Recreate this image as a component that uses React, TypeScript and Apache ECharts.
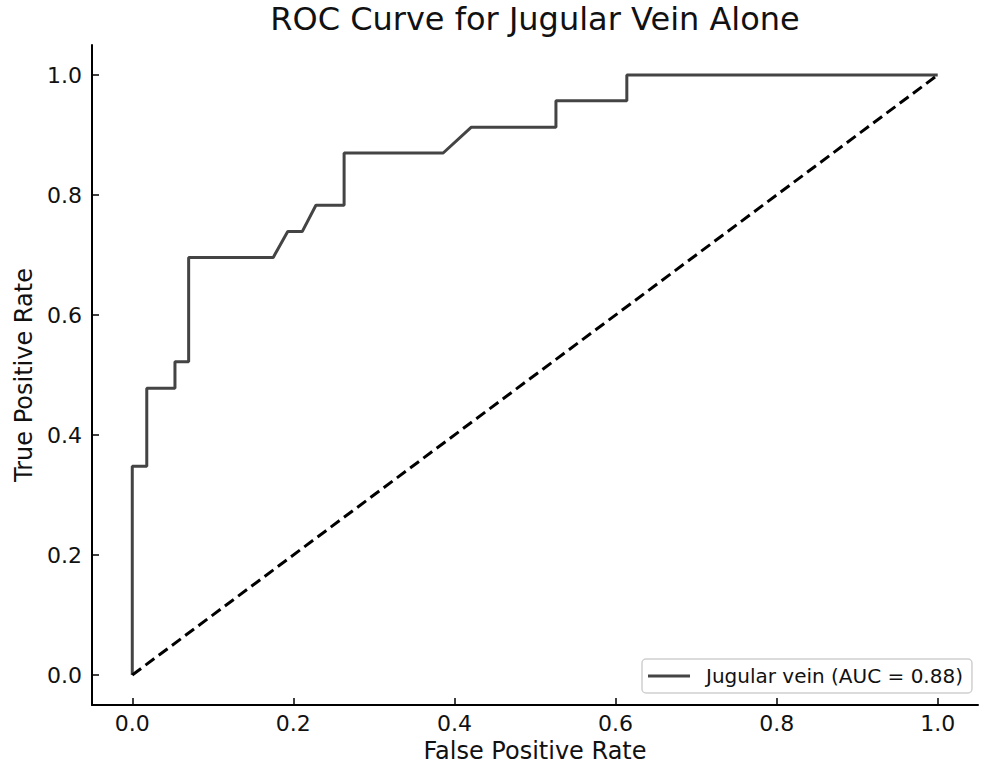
import React, { useEffect, useRef } from "react";
import * as echarts from "echarts";

const title = "ROC Curve for Jugular Vein Alone";
const xName = "False Positive Rate";
const yName = "True Positive Rate";
const seriesName = "Jugular vein (AUC = 0.88)";
const tickValues = [0, 0.2, 0.4, 0.6, 0.8, 1.0];

const fpr = [0, 0, 0.018, 0.018, 0.053, 0.053, 0.070, 0.070, 0.175, 0.193, 0.211, 0.228, 0.263, 0.263, 0.386, 0.421, 0.526, 0.526, 0.614, 0.614, 1.0];
const tpr = [0, 0.348, 0.348, 0.478, 0.478, 0.522, 0.522, 0.696, 0.696, 0.739, 0.739, 0.783, 0.783, 0.870, 0.870, 0.913, 0.913, 0.957, 0.957, 1.0, 1.0];

const chanceX = [0, 1];
const chanceY = [0, 1];

const FONT = "DejaVu Sans";

export default function App() {
  const ref = useRef<HTMLDivElement>(null);
  useEffect(() => {
    if (!ref.current) return;
    const chart = echarts.init(ref.current, null, { renderer: "svg" });
    const axisCommon = {
      type: "value",
      min: -0.05,
      max: 1.05,
      splitLine: { show: false },
      axisLine: { show: true, onZero: false, lineStyle: { color: "#000", width: 2 } },
      axisTick: { show: true, inside: true, length: 7, customValues: tickValues, lineStyle: { color: "#000", width: 1.5 } },
      nameLocation: "middle",
      nameTextStyle: { fontFamily: FONT, fontSize: 24, color: "#111" },
    };
    chart.setOption({
      animation: false,
      backgroundColor: "#fff",
      title: {
        text: title,
        left: 535,
        textAlign: "center",
        top: 3,
        padding: 0,
        textStyle: { fontFamily: FONT, fontSize: 32, fontWeight: "normal", color: "#111" },
      },
      grid: { left: 92, top: 45, width: 886, height: 660, containLabel: false },
      xAxis: {
        ...axisCommon,
        name: xName,
        nameGap: 34,
        axisLabel: {
          customValues: tickValues,
          formatter: (v: number) => v.toFixed(1),
          fontFamily: FONT,
          fontSize: 22,
          color: "#111",
          margin: 7,
        },
      },
      yAxis: {
        ...axisCommon,
        name: yName,
        nameGap: 56,
        axisLabel: {
          customValues: tickValues,
          formatter: (v: number) => v.toFixed(1),
          fontFamily: FONT,
          fontSize: 22,
          color: "#111",
          margin: 10,
        },
      },
      legend: {
        data: [seriesName],
        left: 642,
        top: 659,
        padding: [7, 9, 7, 6],
        borderColor: "#d0d0d0",
        borderWidth: 1.5,
        borderRadius: 4,
        backgroundColor: "rgba(255,255,255,0.85)",
        icon: "rect",
        itemWidth: 42,
        itemHeight: 3,
        textStyle: { fontFamily: FONT, fontSize: 20, color: "#111", padding: [0, 0, 0, 11] },
      },
      series: [
        {
          name: seriesName,
          type: "line",
          data: fpr.map((x, i) => [x, tpr[i]]),
          showSymbol: false,
          symbol: "none",
          lineStyle: { color: "#444", width: 3 },
          itemStyle: { color: "#444" },
        },
        {
          name: "chance",
          type: "line",
          data: chanceX.map((x, i) => [x, chanceY[i]]),
          showSymbol: false,
          symbol: "none",
          lineStyle: { color: "#000", width: 3, type: [11, 5.5] },
          itemStyle: { color: "#000" },
        },
      ],
    });
    return () => chart.dispose();
  }, []);
  return <div ref={ref} style={{ position: "fixed", left: 0, top: 0, width: 983, height: 770 }} />;
}
